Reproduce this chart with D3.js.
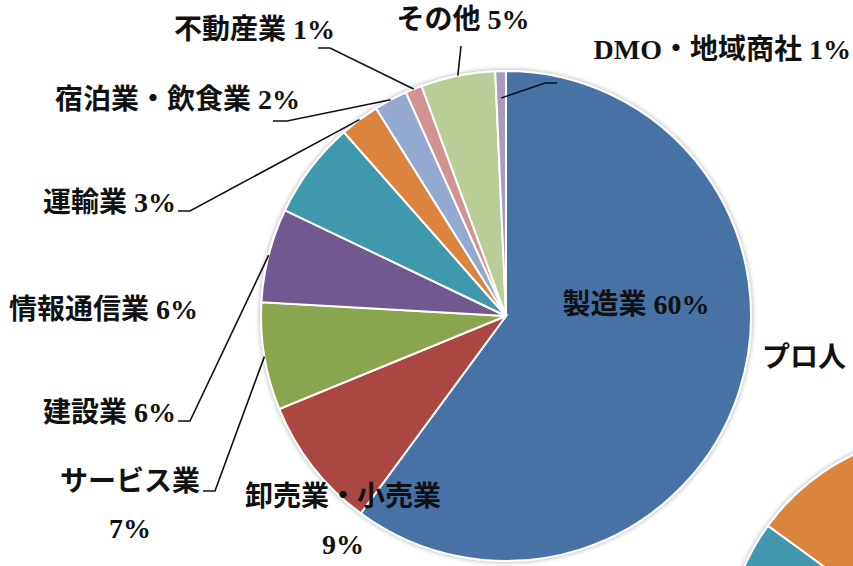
<!DOCTYPE html>
<html>
<head>
<meta charset="utf-8">
<script src="https://cdn.jsdelivr.net/npm/d3@7"></script>
<style>
  html, body { margin: 0; padding: 0; background: #fff; }
  text { font-family: "Liberation Serif", "Noto Sans CJK JP", serif; font-weight: bold; fill: #111; }
</style>
</head>
<body>
<div id="chart"></div>
<script>
// Industry share (main pie), clockwise from 12 o'clock
const categories = ["製造業", "卸売業・小売業", "サービス業", "建設業", "情報通信業",
                    "運輸業", "宿泊業・飲食業", "不動産業", "その他", "DMO・地域商社"];
const shares = [60.1, 8.7, 7.1, 6.2, 6.4, 2.6, 2.2, 1.1, 4.9, 0.7];
const pctLabels = ["60%", "9%", "7%", "6%", "6%", "3%", "2%", "1%", "5%", "1%"];
const colors = ["#4672a6", "#aa4643", "#89a54e", "#71588f", "#4198af",
                "#db843d", "#93a9cf", "#d19392", "#b9cd96", "#a99bbd"];

// Neighbouring chart, only its edge shows in the corner
const secondTitle = "プロ人";
const secondShares = [50, 10, 7, 6, 12, 11, 4];

const W = 853, H = 566;
const cx = 506, cy = 316, R = 245;

const svg = d3.select("#chart").append("svg")
    .attr("width", W)
    .attr("height", H);

// soft shadow round the pies
const defs = svg.append("defs");
const f = defs.append("filter").attr("id", "shadow")
    .attr("x", "-10%").attr("y", "-10%").attr("width", "120%").attr("height", "120%");
f.append("feDropShadow")
    .attr("dx", 0).attr("dy", 0)
    .attr("stdDeviation", 2.5)
    .attr("flood-color", "#000")
    .attr("flood-opacity", 0.35);

const pie = d3.pie().sort(null).value(d => d);
const arc = d3.arc().innerRadius(0).outerRadius(R);

// second pie (bottom right, mostly off screen)
const cx2 = 950, cy2 = 658, R2 = 225;
const arc2 = d3.arc().innerRadius(0).outerRadius(R2);
svg.append("g")
    .attr("transform", `translate(${cx2},${cy2})`)
    .attr("filter", "url(#shadow)")
    .selectAll("path")
    .data(pie(secondShares))
    .enter()
    .append("path")
    .attr("d", arc2)
    .attr("fill", (d, i) => colors[i])
    .attr("stroke", "#fff")
    .attr("stroke-width", 2);

svg.append("text")
    .attr("x", 762)
    .attr("y", 367)
    .style("font-size", "28px")
    .text(secondTitle);

// main pie
const arcs = pie(shares);
svg.append("g")
    .attr("transform", `translate(${cx},${cy})`)
    .attr("filter", "url(#shadow)")
    .selectAll("path")
    .data(arcs)
    .enter()
    .append("path")
    .attr("d", arc)
    .attr("fill", (d, i) => colors[i])
    .attr("stroke", "#fff")
    .attr("stroke-width", 2);

// label layout: anchor, position, optional second line, leader line start
const layout = [
    { anchor: "middle", x: 636, y: 314 },
    { anchor: "middle", x: 343, y: 506, split: true, dy: 48 },
    { anchor: "middle", x: 130, y: 491, split: true, dy: 47, lead: [[203, 491], [215, 491]] },
    { anchor: "end", x: 176, y: 422, lead: [[178, 421], [190, 421]] },
    { anchor: "end", x: 198, y: 319 },
    { anchor: "end", x: 176, y: 212, lead: [[178, 211], [190, 211]] },
    { anchor: "end", x: 300, y: 109, lead: [[273, 121], [287, 121]] },
    { anchor: "end", x: 335, y: 39, lead: [[318, 48], [330, 48]] },
    { anchor: "middle", x: 463, y: 29, lead: [[461, 46]] },
    { anchor: "end", x: 851, y: 59, lead: [[557, 83], [545, 83]], rr: 0.89 }
];

const labels = svg.append("g");
arcs.forEach((d, i) => {
    const L = layout[i];
    if (L.split) {
        labels.append("text")
            .attr("x", L.x).attr("y", L.y)
            .attr("text-anchor", L.anchor)
            .style("font-size", "28px")
            .text(categories[i]);
        labels.append("text")
            .attr("x", L.x).attr("y", L.y + L.dy)
            .attr("text-anchor", L.anchor)
            .style("font-size", "28px")
            .text(pctLabels[i]);
    } else {
        labels.append("text")
            .attr("x", L.x).attr("y", L.y)
            .attr("text-anchor", L.anchor)
            .style("font-size", "28px")
            .text(categories[i] + " " + pctLabels[i]);
    }

    if (L.lead) {
        const mid = (d.startAngle + d.endAngle) / 2;
        const r = R * (L.rr || 1);
        const end = [cx + r * Math.sin(mid), cy - r * Math.cos(mid)];
        labels.append("path")
            .attr("d", d3.line()([...L.lead, end]))
            .attr("fill", "none")
            .attr("stroke", "#111")
            .attr("stroke-width", 1.6);
    }
});
</script>
</body>
</html>
